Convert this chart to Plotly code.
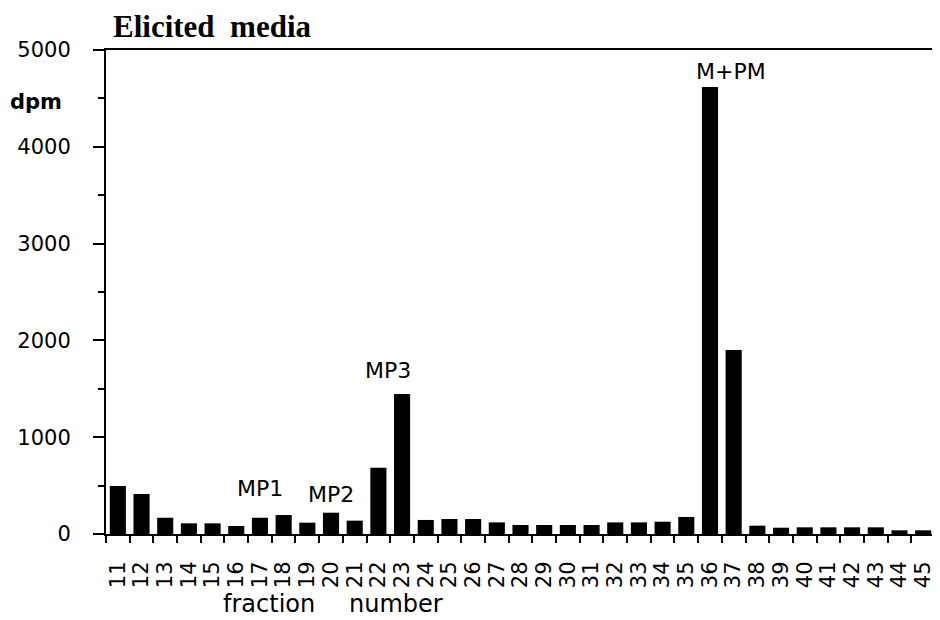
import plotly.graph_objects as go

fractions = [str(n) for n in range(11, 46)]
dpm = [496, 413, 168, 110, 110, 83, 168, 196, 117, 220, 138, 685, 1446,
       145, 155, 155, 120, 93, 93, 93, 93, 120, 120, 127, 176, 4618, 1900,
       86, 65, 69, 69, 69, 69, 38, 38]

peak_labels = ["MP1", "MP2", "MP3", "M+PM"]
peak_fractions = ["17", "20", "23", "36"]
peak_label_y = [475, 413, 1694, 4783]
peak_shift = [0, 0, -14, 21]

# page body has an 8px margin; figure is sized so the plot lands where the reference has it
OFF = 8
W, H = 940 - OFF, 620 - OFF

fig = go.Figure(go.Bar(x=fractions, y=dpm, marker=dict(color="black", line=dict(width=0)),
                       width=0.68))

fig.update_layout(
    width=W, height=H,
    margin=dict(l=106 - OFF, r=5, t=50 - OFF, b=86, autoexpand=False),
    plot_bgcolor="white", paper_bgcolor="white",
    showlegend=False,
    title=dict(text="<b>Elicited  media</b>", x=(113 - OFF)/W, xref="container", xanchor="left",
               y=1-(26 - OFF)/H, yref="container", yanchor="middle",
               font=dict(family="Liberation Serif", size=31, color="black"),
               automargin=False),
    xaxis=dict(type="category", range=[-0.5, len(fractions)-0.5], autorange=False,
               tickmode="linear", tick0=0, dtick=1,
               tickangle=-90, tickson="boundaries", ticks="outside",
               ticklen=7, tickwidth=2, tickcolor="black", showline=True, linewidth=2,
               linecolor="black", mirror=True, showgrid=False, automargin=False,
               tickfont=dict(family="DejaVu Sans", size=21, color="black"),
               ticklabelstandoff=17),
    yaxis=dict(range=[0, 5000], autorange=False, dtick=1000, ticks="outside", ticklen=11,
               tickwidth=2, tickcolor="black", showline=True, linewidth=2, linecolor="black",
               mirror=True, showgrid=False, zeroline=False,
               tickfont=dict(family="DejaVu Sans", size=21, color="black"),
               ticklabelstandoff=18, automargin=False,
               minor=dict(dtick=500, ticks="outside", ticklen=6, tickwidth=1.5,
                          tickcolor="black")),
    bargap=0.32,
)

for lab, fx, ly, sh in zip(peak_labels, peak_fractions, peak_label_y, peak_shift):
    fig.add_annotation(x=fractions.index(fx), y=ly, xref="x", yref="y", text=lab,
                       showarrow=False, xshift=sh, xanchor="center", yanchor="middle",
                       font=dict(family="DejaVu Sans", size=22, color="black"))

plot_l, plot_w, plot_b, plot_h = 106, 829, 86, 484
fig.add_annotation(x=(36-plot_l)/plot_w, y=(620-102-plot_b)/plot_h, xref="paper", yref="paper",
                   text="<b>dpm</b>", showarrow=False, xanchor="center", yanchor="middle",
                   font=dict(family="DejaVu Sans", size=21, color="black"))
fig.add_annotation(x=(269-plot_l)/plot_w, y=(620-604-plot_b)/plot_h, xref="paper", yref="paper",
                   text="fraction", showarrow=False, xanchor="center", yanchor="middle",
                   font=dict(family="DejaVu Sans", size=24, color="black"))
fig.add_annotation(x=(396-plot_l)/plot_w, y=(620-604-plot_b)/plot_h, xref="paper", yref="paper",
                   text="number", showarrow=False, xanchor="center", yanchor="middle",
                   font=dict(family="DejaVu Sans", size=24, color="black"))

fig.write_html("out.html")
